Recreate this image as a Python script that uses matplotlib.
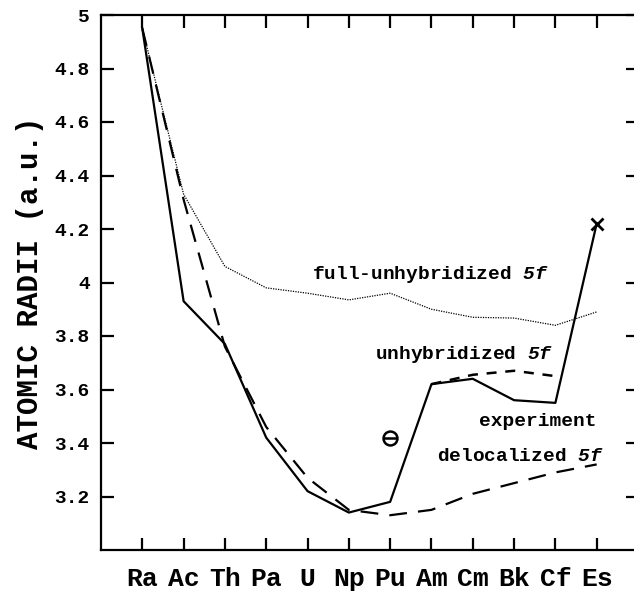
import matplotlib
matplotlib.use('Agg')
import matplotlib.pyplot as plt

elements = ['Ra', 'Ac', 'Th', 'Pa', 'U', 'Np', 'Pu', 'Am', 'Cm', 'Bk', 'Cf', 'Es']

experiment = [4.95, 3.93, 3.77, 3.42, 3.22, 3.14, 3.18, 3.62, 3.64, 3.56, 3.55, 4.22]
delocalized = [4.95, 4.31, 3.76, 3.46, 3.27, 3.15, 3.13, 3.15, 3.21, 3.25, 3.29, 3.32]
full_unhyb = [4.95, 4.33, 4.06, 3.98, 3.96, 3.935, 3.96, 3.90, 3.87, 3.867, 3.84, 3.89]
unhyb_elems = ['Am', 'Cm', 'Bk', 'Cf']
unhyb = [3.62, 3.655, 3.67, 3.65]
pu_point = 3.42

mono = 'Liberation Mono'
plt.rcParams['mathtext.fontset'] = 'custom'
plt.rcParams['mathtext.it'] = 'Liberation Mono:italic:bold'
plt.rcParams['mathtext.rm'] = 'Liberation Mono:italic:bold'

fig = plt.figure(figsize=(6.34, 5.99), dpi=100)
ax = fig.add_axes([101/634, 49/599, 537/634, 535/599])

x = list(range(len(elements)))
xu = [elements.index(e) for e in unhyb_elems]

ax.plot(x, experiment, color='black', lw=1.6)
ax.plot(x, delocalized, color='black', lw=1.6, dashes=(8, 5))
ax.plot(x, full_unhyb, color='black', lw=0.9, ls=(0, (1, 1)))
ax.plot(xu, unhyb, color='black', lw=1.8, dashes=(4, 3.5))

# markers
ax.plot(x[-1], experiment[-1], marker='x', color='black', ms=9, mew=2)
ipu = elements.index('Pu')
ax.plot(ipu, pu_point, marker='o', mfc='none', mec='black', ms=10, mew=1.8)
ax.plot(ipu, pu_point, marker='_', color='black', ms=10, mew=1.8)

# curve labels
lab = dict(family=mono, weight='bold', fontsize=14, va='center')
ax.text(4.12, 4.03, r'full-unhybridized $\mathit{5f}$', **lab)
ax.text(5.64, 3.73, r'unhybridized $\mathit{5f}$', **lab)
ax.text(8.14, 3.48, 'experiment', **lab)
ax.text(7.14, 3.35, r'delocalized $\mathit{5f}$', **lab)

ax.set_xlim(-1, 12)
ax.set_ylim(3.0, 5.0)
ax.set_xticks(x)
ax.set_xticklabels(elements, family=mono, weight='bold', fontsize=19)
yt = [3.2, 3.4, 3.6, 3.8, 4.0, 4.2, 4.4, 4.6, 4.8, 5.0]
ax.set_yticks(yt)
ax.set_yticklabels(['3.2', '3.4', '3.6', '3.8', '4', '4.2', '4.4', '4.6', '4.8', '5'],
                   family=mono, weight='bold', fontsize=14)
ax.set_ylabel('ATOMIC RADII (a.u.)', family=mono, weight='bold', fontsize=21, labelpad=8)

ax.tick_params(direction='in', top=True, right=True, length=9, width=1.6)
ax.tick_params(axis='x', pad=12)
ax.tick_params(axis='y', pad=8)
for s in ax.spines.values():
    s.set_linewidth(1.6)

fig.savefig('out.png', dpi=100)
